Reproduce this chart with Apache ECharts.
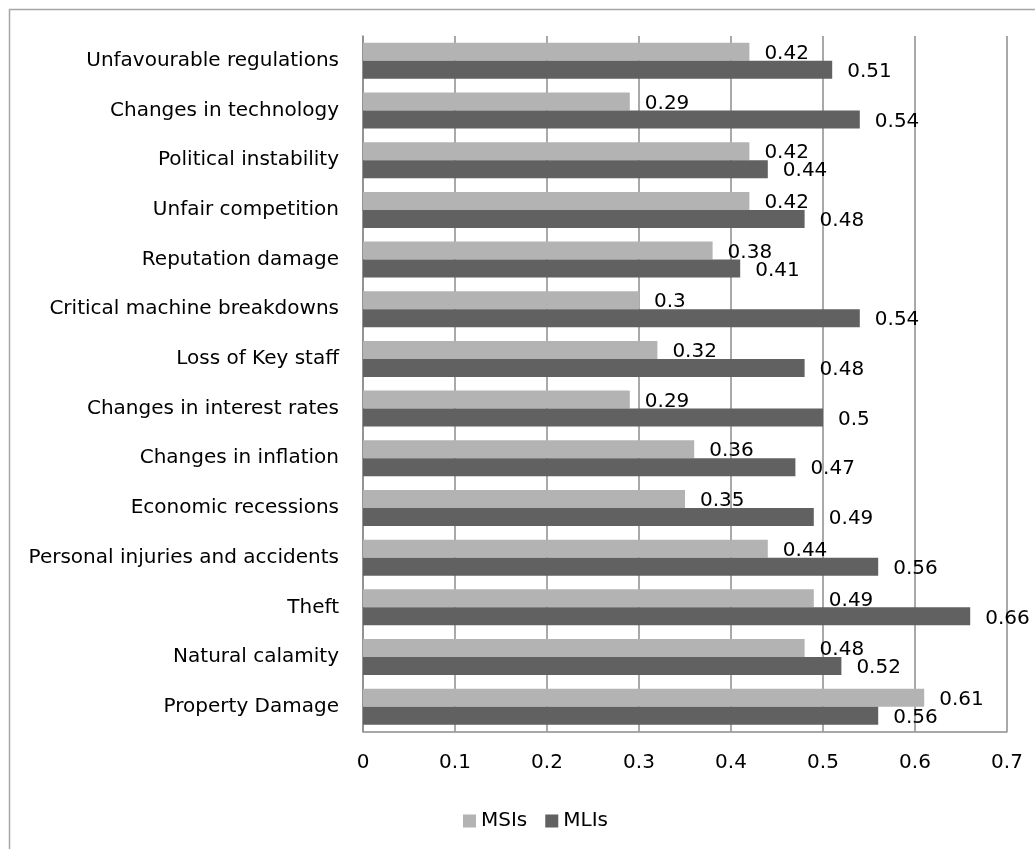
<!DOCTYPE html>
<html>
<head>
<meta charset="utf-8">
<style>
html,body{margin:0;padding:0;background:#fff;}
#c{width:1035px;height:849px;}
</style>
<script src="https://cdn.jsdelivr.net/npm/echarts@6/dist/echarts.min.js"></script>
</head>
<body>
<div id="c"></div>
<script>
var categories = ["Property Damage","Natural calamity","Theft","Personal injuries and accidents","Economic recessions","Changes in inflation","Changes in interest rates","Loss of Key staff","Critical machine breakdowns","Reputation damage","Unfair competition","Political instability","Changes in technology","Unfavourable regulations"];
var msiValues = [0.61,0.48,0.49,0.44,0.35,0.36,0.29,0.32,0.30,0.38,0.42,0.42,0.29,0.42];
var mliValues = [0.56,0.52,0.66,0.56,0.49,0.47,0.50,0.48,0.54,0.41,0.48,0.44,0.54,0.51];
var seriesNames = ["MSIs","MLIs"];

var FONT = "DejaVu Sans";
var chart = echarts.init(document.getElementById('c'), null, {renderer:'canvas'});
var labelCfg = {show:true, position:'right', distance:15, offset:[0,2], color:'#000', fontFamily:FONT, fontSize:20,
  formatter:function(p){return String(p.value);}};
chart.setOption({
  animation:false,
  backgroundColor:'#fff',
  graphic:[{type:'rect', silent:true, shape:{x:9.5,y:9.5,width:1100,height:1000},
    style:{fill:'none', stroke:'#a6a6a6', lineWidth:1.5}}],
  legend:{data:seriesNames, left:458, top:806, icon:'rect', itemWidth:13, itemHeight:13, itemGap:18, itemStyle:{borderWidth:0},
    textStyle:{fontFamily:FONT, fontSize:20, color:'#000'}},
  grid:{left:363, right:28, top:36, bottom:117.5, containLabel:false},
  xAxis:{type:'value', min:0, max:0.7, interval:0.1,
    axisLine:{show:true, lineStyle:{color:'#8c8c8c', width:1.5}},
    axisTick:{show:false},
    splitLine:{show:true, lineStyle:{color:'#8c8c8c', width:1.5}},
    axisLabel:{margin:21, color:'#000', fontFamily:FONT, fontSize:20,
      formatter:function(v){return String(Math.round(v*10)/10);}}},
  yAxis:{type:'category', data:categories,
    axisLine:{show:true, lineStyle:{color:'#8c8c8c', width:1.5}},
    axisTick:{show:false},
    splitLine:{show:false},
    axisLabel:{margin:24, color:'#000', fontFamily:FONT, fontSize:20}},
  series:[
    {name:seriesNames[0], type:'bar', data:msiValues, barWidth:18, barGap:'0%',
      itemStyle:{color:'#b3b3b3'}, label:labelCfg},
    {name:seriesNames[1], type:'bar', data:mliValues, barWidth:18, barGap:'0%',
      itemStyle:{color:'#616161'}, label:labelCfg}
  ]
});
</script>
</body>
</html>
